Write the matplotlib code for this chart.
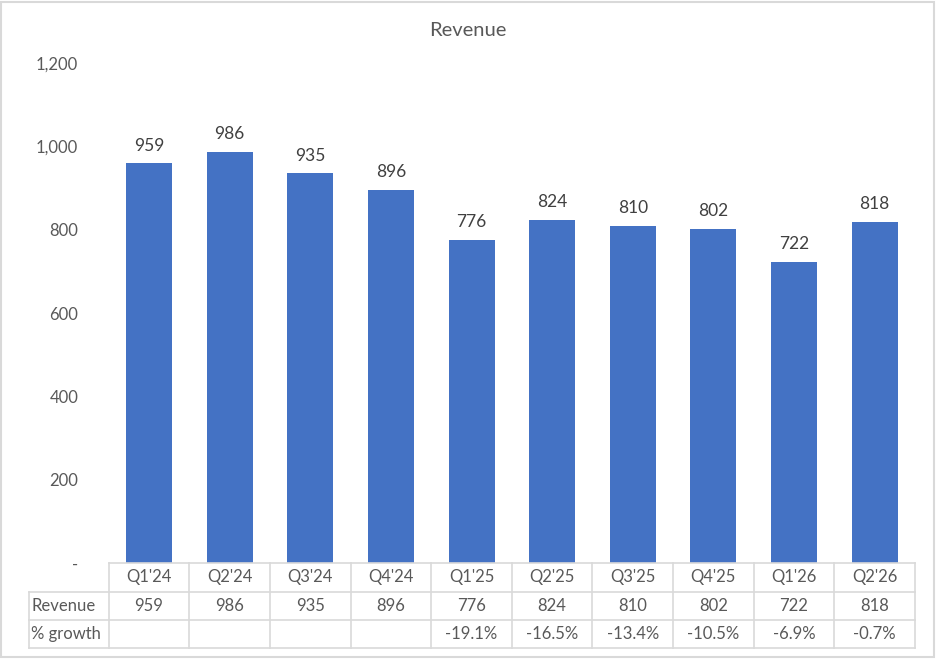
import matplotlib
matplotlib.use("Agg")
import matplotlib.pyplot as plt
from matplotlib.transforms import blended_transform_factory
from matplotlib.patches import Rectangle

quarters = ["Q1'24", "Q2'24", "Q3'24", "Q4'24", "Q1'25", "Q2'25", "Q3'25", "Q4'25", "Q1'26", "Q2'26"]
revenue = [959, 986, 935, 896, 776, 824, 810, 802, 722, 818]
growth = ["", "", "", "", "-19.1%", "-16.5%", "-13.4%", "-10.5%", "-6.9%", "-0.7%"]
yticks = [0, 200, 400, 600, 800, 1000, 1200]
ytick_labels = ["-", "200", "400", "600", "800", "1,000", "1,200"]

TXT = "#595959"
GRID = "#d9d9d9"
BAR = "#4472C4"
plt.rcParams['font.family'] = ['Lato', 'DejaVu Sans']

W, H = 936, 660
fig = plt.figure(figsize=(W / 100, H / 100), dpi=100)

def fx(px):
    return px / W

def fy(py):
    return 1 - py / H

left, right, top, bottom = 108.7, 915, 63, 563
ax = fig.add_axes([fx(left), fy(bottom), fx(right) - fx(left), fy(top) - fy(bottom)])
x = list(range(len(quarters)))
bars = ax.bar(x, revenue, width=0.57, color=BAR)
ax.set_xlim(-0.5, len(quarters) - 0.5)
ax.set_ylim(0, 1200)
for s in ax.spines.values():
    s.set_visible(False)
ax.set_xticks([])
ax.set_yticks(yticks)
ax.set_yticklabels(ytick_labels, color=TXT, fontsize=12)
ax.tick_params(axis='y', length=0, pad=22)

for xi, v in zip(x, revenue):
    ax.annotate(f"{v}", (xi, v), xytext=(0, 7), textcoords='offset points',
                ha='center', va='bottom', fontsize=12.5, color="#404040")

fig.text(0.5, fy(30), "Revenue", ha='center', va='center', fontsize=14.5, color=TXT)

# data table
tr = blended_transform_factory(ax.transData, fig.transFigure)
rows_y = [563, 591.7, 620, 648.3]
label_left = 29
lab_x = -0.5 - (left - label_left) / ((right - left) / len(quarters))

def hline(py, x0, x1):
    ax.plot([x0, x1], [fy(py), fy(py)], transform=tr, color=GRID, lw=1.2, clip_on=False)

def vline(xd, py0, py1):
    ax.plot([xd, xd], [fy(py0), fy(py1)], transform=tr, color=GRID, lw=1.2, clip_on=False)

hline(rows_y[0], -0.5, len(quarters) - 0.5)
for py in rows_y[1:]:
    hline(py, lab_x, len(quarters) - 0.5)
vline(lab_x, rows_y[1], rows_y[3])
for i in range(len(quarters) + 1):
    vline(i - 0.5, rows_y[0], rows_y[3])

def mid(i):
    return fy((rows_y[i] + rows_y[i + 1]) / 2)

for xi, q, v, g in zip(x, quarters, revenue, growth):
    ax.text(xi, mid(0), q, transform=tr, ha='center', va='center', fontsize=12, color=TXT)
    ax.text(xi, mid(1), f"{v}", transform=tr, ha='center', va='center', fontsize=12, color=TXT)
    if g:
        ax.text(xi, mid(2), g, transform=tr, ha='center', va='center', fontsize=12, color=TXT)
ax.text(lab_x + 0.03, mid(1), "Revenue", transform=tr, ha='left', va='center', fontsize=12, color=TXT)
ax.text(lab_x + 0.03, mid(2), "% growth", transform=tr, ha='left', va='center', fontsize=12, color=TXT)

# outer border
fig.patches.append(Rectangle((fx(1), fy(657)), fx(934) - fx(1), fy(2) - fy(657),
                             transform=fig.transFigure, fill=False, ec="#d9d9d9", lw=1.5))

fig.savefig("out.png", dpi=100)
